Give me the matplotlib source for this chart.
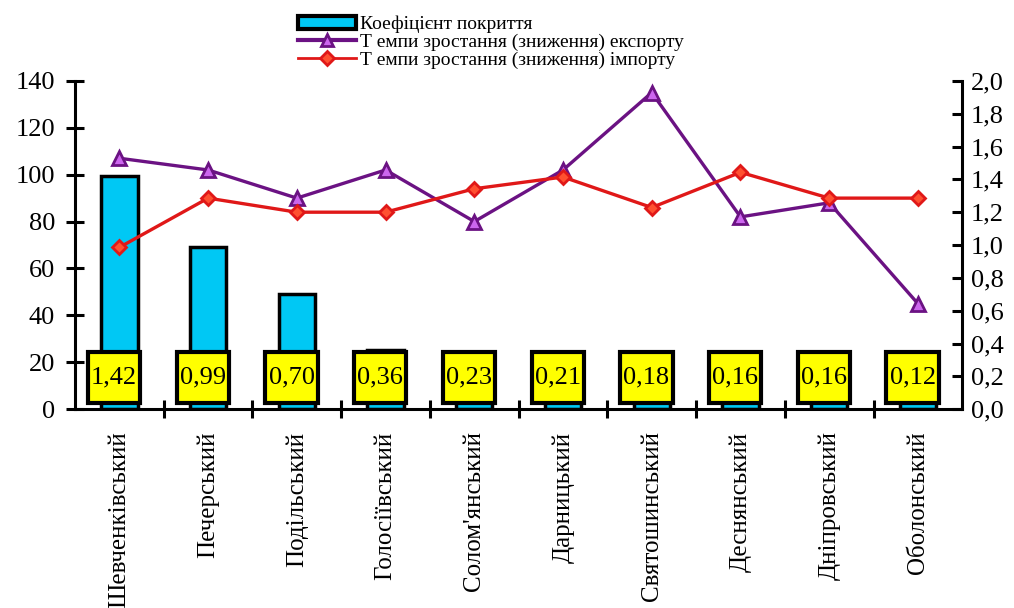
import matplotlib.pyplot as plt
from matplotlib.patches import Rectangle
from matplotlib.lines import Line2D
from matplotlib.ticker import FuncFormatter, MultipleLocator
import numpy as np

# === DATA ===
districts = ["Шевченківський", "Печерський", "Подільський", "Голосіївський",
             "Солом'янський", "Дарницький", "Святошинський", "Деснянський",
             "Дніпровський", "Оболонський"]
coverage = [1.42, 0.99, 0.70, 0.36, 0.23, 0.21, 0.18, 0.16, 0.16, 0.12]
export_rate = [107, 102, 90, 102, 80, 102, 135, 82, 88, 45]
import_rate = [69, 90, 84, 84, 94, 99, 86, 101, 90, 90]

label_cov = "Коефіцієнт покриття"
label_exp = "Т емпи зростання (зниження) експорту"
label_imp = "Т емпи зростання (зниження) імпорту"

plt.rcParams['font.family'] = 'serif'
plt.rcParams['font.serif'] = ['Liberation Serif', 'Times New Roman', 'DejaVu Serif']

bar_color = '#00C8F4'
exp_color = '#6B1283'
exp_fill = '#CC66EE'
imp_color = '#E01818'

fig = plt.figure(figsize=(10.14, 6.08), dpi=100)
ax = fig.add_axes([0.074, 0.327, 0.875, 0.540])
ax2 = ax.twinx()

x = np.arange(len(districts))

# bars on the right axis (coefficient)
ax2.bar(x, coverage, width=0.41, color=bar_color, edgecolor='black', linewidth=2.5, zorder=2)
ax2.set_ylim(0, 2.0)
ax2.yaxis.set_major_locator(MultipleLocator(0.2))
ax2.yaxis.set_major_formatter(FuncFormatter(lambda v, p: f"{v:.1f}".replace('.', ',')))

# value boxes (left-axis units for the box height)
for xi, v in zip(x, coverage):
    ax2.add_patch(Rectangle((xi - 0.355, 2.6 / 70), 0.59, 21.8 / 70, facecolor='#FFFF00',
                            edgecolor='black', linewidth=3, zorder=4))
    ax2.text(xi - 0.06, 13.5 / 70, f"{v:.2f}".replace('.', ','), ha='center', va='center',
             fontsize=19, zorder=5)

# lines on the left axis
ax.plot(x, export_rate, color=exp_color, lw=2.4, marker='^', markersize=10,
        markerfacecolor=exp_fill, markeredgecolor=exp_color, markeredgewidth=2, zorder=3)
ax.plot(x, import_rate, color=imp_color, lw=2.4, marker='D', markersize=7,
        markerfacecolor='#FF5030', markeredgecolor=imp_color, markeredgewidth=2, zorder=3)
ax.set_ylim(0, 140)
ax.set_xlim(-0.5, len(districts) - 0.5)
ax.yaxis.set_major_locator(MultipleLocator(20))

ax.set_zorder(ax2.get_zorder() + 1)
ax.patch.set_visible(False)

# axes styling
for a in (ax, ax2):
    a.spines['top'].set_visible(False)
    for s in a.spines.values():
        s.set_linewidth(2.2)
ax.spines['right'].set_visible(False)
ax2.spines['left'].set_visible(False)
ax2.spines['bottom'].set_visible(False)

ax.tick_params(axis='y', direction='inout', length=12.5, width=2.2, labelsize=19, pad=8)
ax2.tick_params(axis='y', direction='in', length=7, width=2.2, labelsize=19, pad=6)

ax.set_xticks(x)
ax.set_xticklabels(districts, rotation=90, fontsize=18)
ax.tick_params(axis='x', length=0, pad=16)
ax.set_xticks(x[:-1] + 0.5, minor=True)
ax.tick_params(axis='x', which='minor', direction='inout', length=12.5, width=2.2)

# legend
handles = [Rectangle((0, 0), 1, 1, facecolor=bar_color, edgecolor='black', linewidth=3),
           Line2D([], [], color=exp_color, lw=3, marker='^', markersize=9,
                  markerfacecolor=exp_fill, markeredgecolor=exp_color, markeredgewidth=2),
           Line2D([], [], color=imp_color, lw=2, marker='D', markersize=7,
                  markerfacecolor='#FF5030', markeredgecolor=imp_color, markeredgewidth=2)]
fig.legend(handles, [label_cov, label_exp, label_imp], loc='upper left',
           bbox_to_anchor=(0.279, 1.0), frameon=False, fontsize=14,
           handlelength=2.95, handleheight=0.7, handletextpad=0.2, labelspacing=0.0,
           borderpad=0.3)

fig.savefig('out.png', dpi=100)
